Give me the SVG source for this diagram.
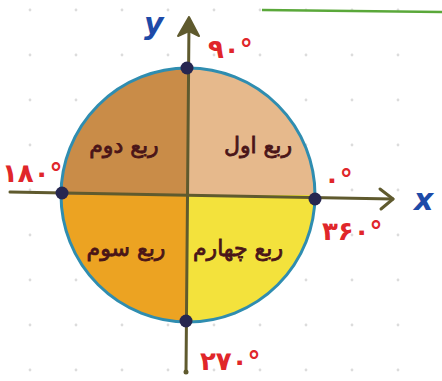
<svg xmlns="http://www.w3.org/2000/svg" width="442" height="381" viewBox="0 0 442 381">
<defs>
<pattern id="grid" x="7" y="-13" width="46" height="45" patternUnits="userSpaceOnUse">
<circle cx="23" cy="23" r="1.4" fill="#dcdcdc"/>
</pattern>
<style>
.ax{stroke:#5f5a2e;stroke-width:3;fill:none;stroke-linecap:round;stroke-linejoin:round}
.dot{fill:#262650}
.deg{font-family:"DejaVu Sans",sans-serif;font-weight:bold;fill:#e0262a;font-size:26px}
.q{font-family:"DejaVu Sans",sans-serif;fill:#4a1518;font-size:22px;text-anchor:middle;direction:rtl;unicode-bidi:embed;stroke:#4a1518;stroke-width:0.8}
.lbl{font-family:"DejaVu Sans",sans-serif;font-weight:bold;font-style:italic;fill:#1d4aa8;font-size:30px}
</style>
</defs>
<rect width="442" height="381" fill="#ffffff"/>
<rect width="442" height="381" fill="url(#grid)"/>
<line x1="262" y1="10" x2="442" y2="12" stroke="#5aa83a" stroke-width="2.5"/>
<g id="circle">
<path d="M188,195 L188,68 A127,127 0 0 1 315,195 Z" fill="#e6b98c"/>
<path d="M188,195 L61,195 A127,127 0 0 1 188,68 Z" fill="#c98c48"/>
<path d="M188,195 L188,322 A127,127 0 0 1 61,195 Z" fill="#eca322"/>
<path d="M188,195 L315,195 A127,127 0 0 1 188,322 Z" fill="#f3e23c"/>
<circle cx="188" cy="195" r="127" fill="none" stroke="#2f8db0" stroke-width="3"/>
</g>
<g id="connectors">
<path class="ax" d="M10,192 L393,199"/>
<path class="ax" d="M380,189 L393,199 L381,209"/>
<path class="ax" d="M186,372 L189,22"/>
<path d="M189,17 L178,36 L189,31 L199,36 Z" fill="#5f5a2e" stroke="#5f5a2e" stroke-width="2" stroke-linejoin="round"/>
<circle cx="186" cy="372" r="2.5" fill="#5f5a2e"/>
</g>
<g id="points">
<circle class="dot" cx="187" cy="68" r="6.5"/>
<circle class="dot" cx="62" cy="193" r="6.5"/>
<circle class="dot" cx="315" cy="199" r="6.5"/>
<circle class="dot" cx="186" cy="321" r="6.5"/>
</g>
<g id="q1"><text class="q" x="258" y="153">ربع اول</text></g>
<g id="q2"><text class="q" x="124" y="153">ربع دوم</text></g>
<g id="q3"><text class="q" x="126" y="256">ربع سوم</text></g>
<g id="q4"><text class="q" x="238" y="256">ربع چهارم</text></g>
<g id="labels">
<text class="lbl" x="144" y="34">y</text>
<text class="lbl" x="414" y="210">x</text>
<text class="deg" x="208" y="58">۹۰°</text>
<text class="deg" x="2" y="182" font-size="19">۱۸۰°</text>
<text class="deg" x="324" y="188">۰°</text>
<text class="deg" x="322" y="240">۳۶۰°</text>
<text class="deg" x="200" y="370">۲۷۰°</text>
</g>
</svg>
